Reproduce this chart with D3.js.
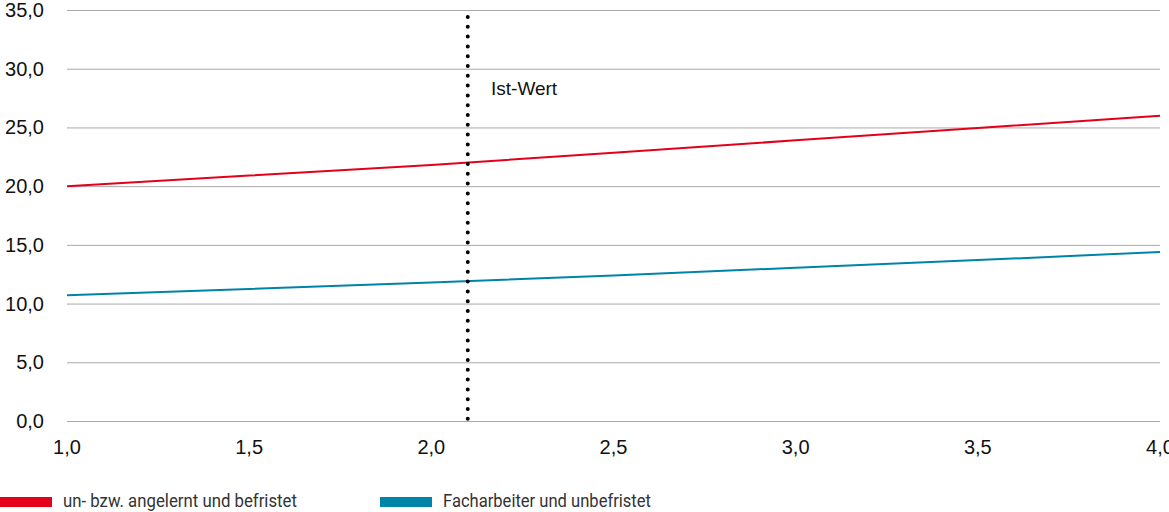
<!DOCTYPE html>
<html><head><meta charset="utf-8">
<script src="https://cdn.jsdelivr.net/npm/d3@7"></script>
<style>body{margin:0;background:#fff}svg{display:block}</style>
</head><body>
<script>
const xValues = [1.0, 1.5, 2.0, 2.5, 3.0, 3.5, 4.0];
const seriesNames = ["un- bzw. angelernt und befristet", "Facharbeiter und unbefristet"];
const redValues = [20.0, 20.9, 21.8, 22.85, 23.9, 24.95, 26.0];
const blueValues = [10.7, 11.25, 11.8, 12.4, 13.05, 13.7, 14.4];
const colors = ["#e2001a", "#0083a9"];
const yTicks = [0, 5, 10, 15, 20, 25, 30, 35];
const xTicks = [1.0, 1.5, 2.0, 2.5, 3.0, 3.5, 4.0];
const istWert = 2.1;
const istLabel = "Ist-Wert";

const W = 1169, H = 512;
const FONT = "'Liberation Sans', Arial, sans-serif";
const svg = d3.select("body").append("svg").attr("width", W).attr("height", H);
const x = d3.scaleLinear().domain([1, 4]).range([67, 1160]);
const y = d3.scaleLinear().domain([0, 35]).range([421, 10]);
const fmt = v => d3.format(".1f")(v).replace(".", ",");

// grid
svg.append("g").selectAll("line").data(yTicks).join("line")
  .attr("x1", x(1)).attr("x2", x(4))
  .attr("y1", d => y(d) + 0.5).attr("y2", d => y(d) + 0.5)
  .attr("stroke", "#a8a8a8").attr("stroke-width", 1);

// y labels
svg.append("g").selectAll("text").data(yTicks).join("text")
  .attr("x", 44).attr("y", d => y(d)).attr("dy", "0.35em")
  .attr("text-anchor", "end")
  .style("font-family", FONT).style("font-size", "20px").attr("fill", "#111")
  .text(fmt);

// x labels
svg.append("g").selectAll("text").data(xTicks).join("text")
  .attr("x", d => x(d)).attr("y", 447).attr("dy", "0.35em")
  .attr("text-anchor", "middle")
  .style("font-family", FONT).style("font-size", "20px").attr("fill", "#111")
  .text(fmt);

// lines
const line = d3.line().x((d, i) => x(xValues[i])).y(d => y(d));
[redValues, blueValues].forEach((vals, k) => {
  svg.append("path").datum(vals).attr("d", line)
    .attr("fill", "none").attr("stroke", colors[k]).attr("stroke-width", 2);
});

// Ist-Wert dotted line
svg.append("line")
  .attr("x1", x(istWert)).attr("x2", x(istWert))
  .attr("y1", 17).attr("y2", y(0))
  .attr("stroke", "#000").attr("stroke-width", 4)
  .attr("stroke-linecap", "round").attr("stroke-dasharray", "0,9.8");
svg.append("text").attr("x", 491).attr("y", 88).attr("dy", "0.35em")
  .style("font-family", FONT).style("font-size", "19px").attr("fill", "#111")
  .text(istLabel);

// legend
const legX = [0, 380];
const legW = [234, 208];
seriesNames.forEach((n, i) => {
  svg.append("rect").attr("x", legX[i]).attr("y", 497).attr("width", 52).attr("height", 10).attr("fill", colors[i]);
  svg.append("text").attr("x", legX[i] + 63).attr("y", 507)
    .attr("textLength", legW[i]).attr("lengthAdjust", "spacingAndGlyphs")
    .style("font-family", "Roboto, sans-serif")
    .style("font-size", "18px").attr("fill", "#333").text(n);
});
</script>
</body></html>
